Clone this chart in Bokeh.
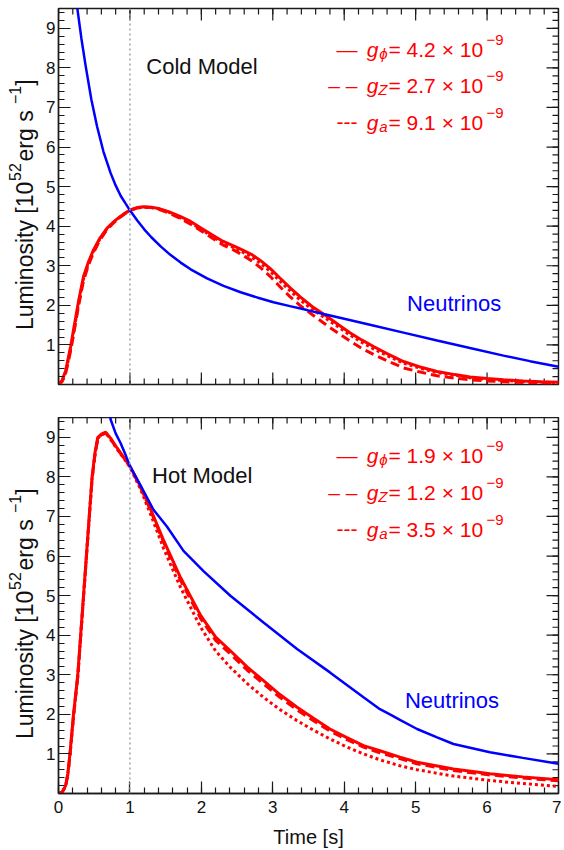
import math
from bokeh.plotting import figure
from bokeh.models import LinearAxis, FixedTicker, Range1d, Span, Label
from bokeh.layouts import column, row
from bokeh.core.properties import value
from bokeh.embed import file_html
from bokeh.resources import INLINE

FONT = "Liberation Sans"
RED = "#ff0000"
BLUE = "#0000ff"
INK = "#1a1a1a"

# ---------------- data ----------------
# Cold model
t_cold = [0, 0.05, 0.1, 0.17, 0.21, 0.28, 0.35, 0.42, 0.49, 0.58, 0.68, 0.78, 0.86, 0.94, 1.0,
          1.1, 1.19, 1.3, 1.4, 1.55, 1.71, 1.85, 2.0, 2.15, 2.3, 2.45, 2.55, 2.7, 2.83, 2.97,
          3.10, 3.24, 3.38, 3.55, 3.76, 3.92, 4.08, 4.25, 4.41, 4.6, 4.83, 5.05, 5.3, 5.55,
          5.76, 6.0, 6.23, 6.5, 6.75, 7.0]
cold_phi = [0, 0.1, 0.35, 0.96, 1.38, 2.1, 2.73, 3.1, 3.40, 3.7, 3.95, 4.12, 4.24, 4.34, 4.41,
            4.47, 4.49, 4.48, 4.45, 4.36, 4.24, 4.12, 3.95, 3.78, 3.62, 3.50, 3.42, 3.29, 3.13, 2.92,
            2.69, 2.45, 2.22, 1.97, 1.72, 1.51, 1.31, 1.12, 0.96, 0.78, 0.58, 0.45, 0.33, 0.25,
            0.19, 0.15, 0.12, 0.09, 0.07, 0.06]
cold_Z = [0, 0.07, 0.28, 0.85, 1.25, 1.98, 2.62, 3.02, 3.33, 3.65, 3.92, 4.10, 4.22, 4.33, 4.40,
          4.46, 4.48, 4.47, 4.43, 4.33, 4.19, 4.05, 3.88, 3.70, 3.53, 3.40, 3.30, 3.13, 2.95, 2.72,
          2.47, 2.22, 2.00, 1.77, 1.49, 1.29, 1.10, 0.91, 0.76, 0.60, 0.42, 0.32, 0.22, 0.16,
          0.12, 0.09, 0.07, 0.05, 0.04, 0.03]
cold_a = [0, 0.08, 0.3, 0.9, 1.3, 2.03, 2.67, 3.06, 3.37, 3.68, 3.94, 4.11, 4.23, 4.33, 4.40,
          4.46, 4.48, 4.47, 4.44, 4.35, 4.21, 4.08, 3.92, 3.74, 3.58, 3.46, 3.37, 3.23, 3.06, 2.85,
          2.61, 2.37, 2.14, 1.90, 1.65, 1.45, 1.25, 1.06, 0.90, 0.73, 0.54, 0.42, 0.30, 0.23,
          0.17, 0.13, 0.10, 0.08, 0.06, 0.05]
t_cold_nu = [0.2, 0.26, 0.32, 0.38, 0.46, 0.54, 0.63, 0.73, 0.8, 0.87, 0.94, 1.0, 1.1, 1.2,
             1.3, 1.43, 1.57, 1.71, 1.85, 2.08, 2.31, 2.55, 2.78, 3.01, 3.24, 3.48, 3.71, 4.0,
             4.36, 4.83, 5.30, 5.76, 6.23, 6.6, 7.0]
cold_nu = [10.4, 9.55, 8.75, 8.05, 7.2, 6.52, 5.88, 5.34, 5.03, 4.77, 4.57, 4.40, 4.15, 3.92,
           3.72, 3.49, 3.27, 3.08, 2.91, 2.68, 2.49, 2.33, 2.20, 2.08, 1.98, 1.88, 1.78, 1.66,
           1.51, 1.31, 1.11, 0.92, 0.73, 0.59, 0.45]

# Hot model
t_hot = [0, 0.05, 0.1, 0.13, 0.16, 0.21, 0.27, 0.31, 0.35, 0.39, 0.43, 0.47, 0.51, 0.55, 0.6,
         0.66, 0.74, 0.82, 0.91, 1.0, 1.15, 1.29, 1.47, 1.71, 1.99, 2.2, 2.41, 2.64, 2.87, 3.1,
         3.34, 3.57, 3.80, 4.03, 4.27, 4.5, 4.78, 5.02, 5.53, 6.04, 6.5, 7.0]
hot_phi = [0, 0.03, 0.2, 0.5, 1.0, 2.0, 3.0, 4.0, 5.0, 6.0, 7.0, 8.0, 8.6, 9.0, 9.08,
           9.13, 8.95, 8.73, 8.50, 8.27, 7.75, 7.18, 6.40, 5.45, 4.50, 3.95, 3.60, 3.20, 2.85, 2.50,
           2.18, 1.90, 1.63, 1.42, 1.21, 1.08, 0.92, 0.79, 0.62, 0.50, 0.42, 0.35]
hot_Z = [0, 0.03, 0.18, 0.47, 0.95, 1.95, 2.95, 3.95, 4.95, 5.95, 6.95, 7.95, 8.55, 8.97, 9.06,
         9.11, 8.93, 8.71, 8.49, 8.26, 7.73, 7.15, 6.35, 5.38, 4.42, 3.87, 3.52, 3.12, 2.77, 2.43,
         2.11, 1.84, 1.58, 1.37, 1.17, 1.03, 0.88, 0.75, 0.58, 0.47, 0.39, 0.32]
hot_a = [0, 0.03, 0.18, 0.47, 0.95, 1.95, 2.95, 3.95, 4.95, 5.95, 6.95, 7.95, 8.55, 8.97, 9.06,
         9.11, 8.92, 8.70, 8.48, 8.25, 7.68, 7.05, 6.20, 5.20, 4.20, 3.60, 3.18, 2.78, 2.43, 2.12,
         1.84, 1.60, 1.38, 1.18, 1.00, 0.85, 0.70, 0.60, 0.44, 0.33, 0.25, 0.18]
t_hot_nu = [0.71, 0.73, 0.8, 0.87, 0.94, 1.0, 1.15, 1.33, 1.52, 1.75, 2.03, 2.41, 2.87, 3.34,
            3.80, 4.27, 4.5, 4.64, 4.78, 5.02, 5.3, 5.53, 6.04, 6.5, 7.0]
hot_nu = [9.7, 9.45, 9.1, 8.85, 8.55, 8.27, 7.78, 7.17, 6.74, 6.13, 5.62, 4.99, 4.32, 3.65,
          3.06, 2.43, 2.13, 2.0, 1.86, 1.63, 1.42, 1.25, 1.04, 0.9, 0.75]

x_ticks = [0, 1, 2, 3, 4, 5, 6, 7]
y_ticks = [1, 2, 3, 4, 5, 6, 7, 8, 9]
cold_couplings = ["4.2", "2.7", "9.1"]
hot_couplings = ["1.9", "1.2", "3.5"]
coupling_names = ["ϕ", "Z", "a"]
legend_marks = ["—", "– –", "---"]
y_label_parts = ["Luminosity [10", "52", " erg s", "−1", " ]"]

x_minor = [i * 0.2 for i in range(36)]
y_minor = [i * 0.2 for i in range(48)]

X0, X1, Y0, Y1 = 0, 7, 0, 9.5
FW, FH = 500, 376
PX = FW / (X1 - X0)   # pixels per x unit
PY = FH / (Y1 - Y0)   # pixels per y unit
MAJ, MIN = 12, 6      # inward tick lengths (px)
LABW = 42             # width of the strip holding the y-axis titles
LIFT = 8              # px correction so that label baselines sit where intended
TOP_H = 8 + FH + 33   # height of upper figure
BOT_H = FH + 50       # height of lower figure


def make_axis(ticks, minor, label_text=None, standoff=2, label_standoff=8):
    ax = LinearAxis(
        ticker=FixedTicker(ticks=ticks, minor_ticks=minor),
        major_tick_in=MAJ, major_tick_out=0, minor_tick_in=MIN, minor_tick_out=0,
        axis_line_width=1.4, axis_line_color=INK,
        major_tick_line_width=1.2, minor_tick_line_width=1.2,
        major_tick_line_color=INK, minor_tick_line_color=INK,
        major_label_text_font=FONT, major_label_text_font_size="17px",
        major_label_text_color="#111111",
        major_label_standoff=standoff,
    )
    if label_text is not None:
        ax.axis_label = label_text
        ax.axis_label_text_font = FONT
        ax.axis_label_text_font_size = "20px"
        ax.axis_label_text_font_style = "normal"
        ax.axis_label_text_color = "#111111"
        ax.axis_label_standoff = label_standoff
    return ax


def inner_ticks(p, bottom_too):
    # top and right (and optionally bottom) ticks without labels
    for ticks, ln in ((x_ticks, MAJ), (x_minor, MIN)):
        p.segment(x0=ticks, y0=[Y1] * len(ticks), x1=ticks, y1=[Y1 - ln / PY] * len(ticks),
                  line_color=INK, line_width=1.2)
        if bottom_too:
            p.segment(x0=ticks, y0=[Y0] * len(ticks), x1=ticks, y1=[Y0 + ln / PY] * len(ticks),
                      line_color=INK, line_width=1.2)
    for ticks, ln in ((y_ticks, MAJ), (y_minor, MIN)):
        p.segment(x0=[X1] * len(ticks), y0=ticks, x1=[X1 - ln / PX] * len(ticks), y1=ticks,
                  line_color=INK, line_width=1.2)


def label_strip():
    """Narrow figure carrying both rotated y-axis titles (with true superscripts)."""
    height = TOP_H + BOT_H
    s = figure(frame_width=LABW, frame_height=height,
               x_range=Range1d(0, LABW), y_range=Range1d(0, height),
               x_axis_type=None, y_axis_type=None,
               output_backend="svg", toolbar_location=None,
               min_border=0, min_border_left=0, min_border_right=0,
               min_border_top=0, min_border_bottom=0)
    s.grid.visible = False
    s.outline_line_color = None
    s.background_fill_color = "white"
    s.border_fill_color = "white"
    sizes = [23, 16, 23, 16, 23]
    raises = [0, 10, 0, 10, 0]
    starts = [0.0, 149.0, 168.5, 226.0, 244.2]
    total = 257.0
    xb = 32 - LIFT
    for center_from_top in (201, TOP_H + 193):
        yb = height - center_from_top - total / 2
        for txt, size, rz, st in zip(y_label_parts, sizes, raises, starts):
            s.text(x=[xb - rz], y=[yb + st], text=[txt], angle=math.pi / 2,
                   text_font=value(FONT), text_font_size=f"{size}px", text_color="#111111",
                   text_align="left", text_baseline="alphabetic")
    return s


def make_panel(bottom_labels, min_top, min_bottom):
    p = figure(frame_width=FW, frame_height=FH,
               x_range=Range1d(X0, X1), y_range=Range1d(Y0, Y1),
               x_axis_type=None, y_axis_type=None,
               output_backend="svg", toolbar_location=None,
               min_border_left=58 - LABW, min_border_right=3, min_border_top=min_top,
               min_border_bottom=min_bottom)
    p.grid.visible = False
    p.outline_line_color = INK
    p.outline_line_width = 1.4
    p.background_fill_color = "white"
    p.border_fill_color = "white"
    p.add_layout(make_axis(y_ticks, y_minor, standoff=3), "left")
    if bottom_labels:
        p.add_layout(make_axis(x_ticks, x_minor, "Time [s]", standoff=7, label_standoff=10),
                     "below")
    inner_ticks(p, not bottom_labels)
    p.add_layout(Span(location=1, dimension="height", line_color="#9ba4ae",
                      line_dash="2 3", line_width=1.5))
    return p


def add_text(p, x, y, text, color, size="22px", **kw):
    kw.setdefault("y_offset", 0)
    kw["y_offset"] += LIFT
    p.add_layout(Label(x=x, y=y, text=text, text_font=FONT, text_font_size=size,
                       text_color=color, text_baseline="alphabetic", **kw))


def add_legend(p, couplings, baselines):
    x0 = 330 / PX
    for mark, name, val, yb in zip(legend_marks, coupling_names, couplings, baselines):
        add_text(p, x0, yb, "= " + val + " × 10", RED, "21px", text_align="left")
        add_text(p, x0, yb, "−9", RED, "15px", text_align="left", x_offset=98, y_offset=9)
        add_text(p, x0, yb, name, RED, "15px", text_align="right", x_offset=-1, y_offset=-4,
                 text_font_style="italic")
        add_text(p, x0, yb, "g", RED, "21px", text_align="right", x_offset=-10,
                 text_font_style="italic")
        add_text(p, x0, yb, mark, RED, "21px", text_align="right", x_offset=-31)


# ---------------- top panel ----------------
p1 = make_panel(False, 8, 33)
p1.line(t_cold, cold_a, line_color=RED, line_width=3, line_dash="3 3")
p1.line(t_cold, cold_Z, line_color=RED, line_width=3, line_dash="9 5")
p1.line(t_cold, cold_phi, line_color=RED, line_width=3)
p1.line(t_cold_nu, cold_nu, line_color=BLUE, line_width=2.5)
add_text(p1, 1.23, 7.82, "Cold Model", "#111111")
add_text(p1, 4.88, 1.84, "Neutrinos", BLUE)
add_legend(p1, cold_couplings, [8.27, 7.36, 6.43])

# ---------------- bottom panel ----------------
p2 = make_panel(True, 0, 50)
p2.line(t_hot, hot_a, line_color=RED, line_width=3, line_dash="3 3")
p2.line(t_hot, hot_Z, line_color=RED, line_width=3, line_dash="9 5")
p2.line(t_hot, hot_phi, line_color=RED, line_width=3)
p2.line(t_hot_nu, hot_nu, line_color=BLUE, line_width=2.5)
add_text(p2, 1.31, 7.83, "Hot Model", "#111111")
add_text(p2, 4.85, 2.15, "Neutrinos", BLUE)
add_legend(p2, hot_couplings, [8.34, 7.41, 6.47])

strip = label_strip()
layout = row(strip, column(p1, p2, spacing=0), spacing=0)
open("out.html", "w").write(file_html(layout, INLINE))
